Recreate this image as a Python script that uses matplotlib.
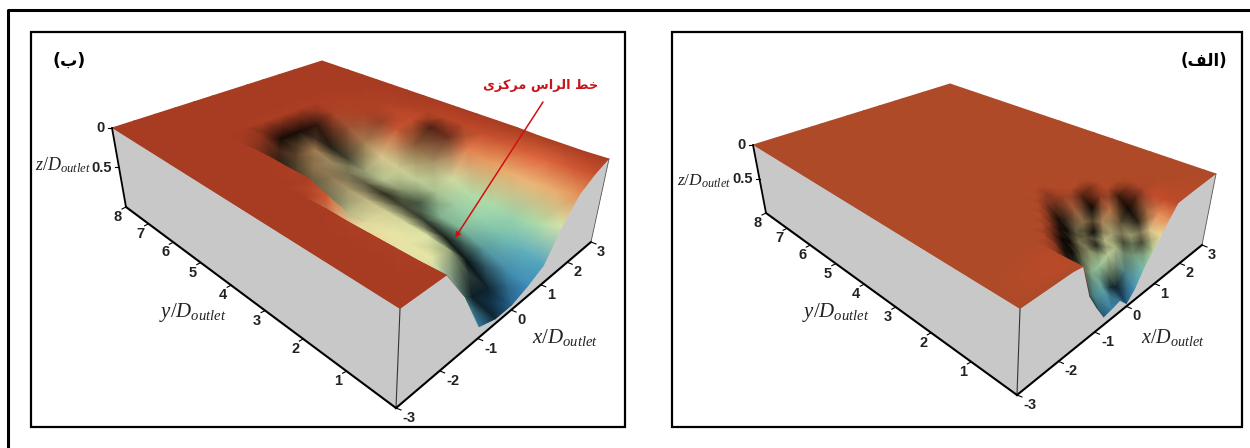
import matplotlib

matplotlib.use("Agg")
import matplotlib.pyplot as plt
import numpy as np
from matplotlib.colors import LinearSegmentedColormap
from matplotlib.patches import Polygon, Rectangle

plt.rcParams["mathtext.fontset"] = "custom"
plt.rcParams["mathtext.it"] = "Liberation Serif:italic"
plt.rcParams["mathtext.rm"] = "Liberation Serif"

# surface depth z/D, rows go far to near (y), columns left to right (x)
B_X = [-3, -2.5, -2, -1.5, -1, -0.5, 0, 0.5, 1, 1.5, 2, 2.5, 3]
B_Y = [8, 7.5, 7, 6.5, 6, 5.5, 5, 4.5, 4, 3.5, 3, 2.5, 2, 1.5, 1, 0.5, 0]
B_DEPTH = [
    [0, 0, 0, 0, 0, 0, 0, 0, 0, 0, 0, 0, 0],
    [0, 0, 0, 0, 0, 0, 0, 0, 0, 0, 0, 0, 0],
    [0, 0, 0, 0, 0, 0, 0, 0, 0, 0, 0, 0, 0],
    [0, 0, 0, 0, 0, 0, 0, 0, 0, 0, 0, 0, 0],
    [0, 0, 0, 0, 0, 0.01, 0.01, 0.01, 0.01, 0.01, 0, 0, 0],
    [0, 0, 0, 0, 0.02, 0.14, 0.14, 0.14, 0.06, 0.02, 0.01, 0.01, 0],
    [0, 0, 0, 0, 0.38, 0.26, 0.28, 0.35, 0.16, 0.06, 0.02, 0.01, 0],
    [0, 0, 0, 0, 0.42, 0.3, 0.34, 0.4, 0.28, 0.11, 0.05, 0.01, 0],
    [0, 0, 0, 0.01, 0.4, 0.32, 0.38, 0.44, 0.36, 0.1, 0.07, 0.03, 0],
    [0, 0, 0, 0.01, 0.45, 0.36, 0.4, 0.46, 0.42, 0.22, 0.08, 0.04, 0],
    [0, 0, 0, 0.1, 0.42, 0.38, 0.42, 0.48, 0.46, 0.34, 0.12, 0.05, 0],
    [0, 0, 0, 0.42, 0.4, 0.4, 0.46, 0.52, 0.5, 0.44, 0.17, 0.07, 0],
    [0, 0, 0.01, 0.34, 0.4, 0.42, 0.5, 0.58, 0.56, 0.54, 0.22, 0.09, 0],
    [0, 0, 0.01, 0.46, 0.4, 0.44, 0.58, 0.6, 0.58, 0.55, 0.26, 0.12, 0.01],
    [0, 0, 0.01, 0.36, 0.42, 0.48, 0.72, 0.7, 0.64, 0.58, 0.28, 0.13, 0.01],
    [0, 0, 0.01, 0.46, 0.7, 0.85, 0.9, 0.8, 0.72, 0.55, 0.26, 0.1, 0.01],
    [0, 0, 0, 0.4, 0.88, 0.95, 0.95, 0.88, 0.78, 0.45, 0.2, 0.08, 0],
]
B_SHADE = [
    [0, 0, 0, 0, 0, 0, 0, 0, 0, 0, 0, 0, 0],
    [0, 0, 0, 0, 0, 0, 0, 0, 0, 0, 0, 0, 0],
    [0, 0, 0, 0, 0, 0, 0, 0, 0, 0, 0, 0, 0],
    [0, 0, 0, 0, 0, 0, 0, 0, 0, 0, 0, 0, 0],
    [0, 0, 0, 0, 0, 0, 0, 0, 0, 0, 0, 0, 0],
    [0, 0, 0, 0, 0.2, 0.9, 0.9, 0.8, 0.1, 0, 0, 0, 0],
    [0, 0, 0, 0, 0.9, 0.6, 0.3, 0.85, 0.3, 0.1, 0, 0, 0],
    [0, 0, 0, 0, 0.8, 0.4, 0.35, 0.7, 0.3, 0.3, 0, 0, 0],
    [0, 0, 0, 0, 0.6, 0.4, 0.5, 0.3, 0.1, 0.05, 0, 0, 0],
    [0, 0, 0, 0, 0.5, 0.3, 0.6, 0.15, 0.1, 0.4, 0.6, 0, 0],
    [0, 0, 0, 0, 0.2, 0.2, 0.8, 0.35, 0.1, 0.3, 0.5, 0, 0],
    [0, 0, 0, 0, 0.05, 0.1, 0.7, 0.6, 0.15, 0.05, 0, 0, 0],
    [0, 0, 0, 0, 0, 0.05, 0.75, 0.15, 0.05, 0, 0, 0, 0],
    [0, 0, 0, 0, 0, 0, 0.85, 0.1, 0, 0, 0, 0, 0],
    [0, 0, 0, 0, 0, 0.3, 0.9, 0.15, 0, 0, 0, 0, 0],
    [0, 0, 0, 0, 0.1, 0.8, 0.75, 0.1, 0, 0, 0, 0, 0],
    [0, 0, 0, 0, 0.1, 0.7, 0.2, 0, 0, 0, 0, 0, 0],
]

A_X = [-3, -1.75, -1.5, -1.25, -1, -0.75, -0.5, -0.25, 0, 0.25, 0.5, 0.75, 1, 1.25, 1.5, 2, 3]
A_Y = [8, 4, 3, 2.5, 2.25, 2, 1.75, 1.5, 1.25, 1, 0.75, 0.5, 0.25, 0]
A_DEPTH = [
    [0, 0, 0, 0, 0, 0, 0, 0, 0, 0, 0, 0, 0, 0, 0, 0, 0],
    [0, 0, 0, 0, 0, 0, 0, 0, 0, 0, 0, 0, 0, 0, 0, 0, 0],
    [0, 0, 0, 0, 0, 0, 0, 0, 0, 0, 0, 0, 0, 0, 0, 0, 0],
    [0, 0, 0, 0, 0, 0, 0, 0, 0, 0, 0, 0, 0, 0, 0, 0, 0],
    [0, 0, 0, 0, 0, 0, 0, 0.01, 0.02, 0.01, 0, 0, 0, 0, 0, 0, 0],
    [0, 0, 0, 0, 0, 0, 0, 0.02, 0.04, 0.02, 0, 0, 0, 0, 0, 0, 0],
    [0, 0, 0, 0, 0, 0, 0.02, 0.08, 0.12, 0.08, 0.03, 0, 0, 0, 0, 0, 0],
    [0, 0, 0, 0, 0, 0.02, 0.08, 0.2, 0.28, 0.18, 0.08, 0.02, 0, 0, 0, 0, 0],
    [0, 0, 0, 0, 0.02, 0.08, 0.2, 0.3, 0.36, 0.3, 0.18, 0.08, 0.03, 0, 0, 0, 0],
    [0, 0, 0, 0.01, 0.06, 0.2, 0.3, 0.36, 0.38, 0.38, 0.3, 0.2, 0.08, 0.03, 0, 0, 0],
    [0, 0.02, 0.01, 0.05, 0.2, 0.3, 0.4, 0.42, 0.42, 0.42, 0.4, 0.32, 0.2, 0.08, 0.03, 0, 0],
    [0, 0.04, 0.02, 0.18, 0.35, 0.45, 0.55, 0.55, 0.48, 0.45, 0.45, 0.42, 0.32, 0.2, 0.07, 0.01, 0],
    [0, 0.04, 0.02, 0.35, 0.55, 0.72, 0.68, 0.75, 0.82, 0.7, 0.55, 0.45, 0.35, 0.2, 0.06, 0.02, 0],
    [0, 0, 0.02, 0.47, 0.7, 0.9, 0.88, 0.85, 0.97, 0.85, 0.65, 0.5, 0.36, 0.2, 0.05, 0.03, 0],
]
A_SHADE = [
    [0, 0, 0, 0, 0, 0, 0, 0, 0, 0, 0, 0, 0, 0, 0, 0, 0],
    [0, 0, 0, 0, 0, 0, 0, 0, 0, 0, 0, 0, 0, 0, 0, 0, 0],
    [0, 0, 0, 0, 0, 0, 0, 0, 0, 0, 0, 0, 0, 0, 0, 0, 0],
    [0, 0, 0, 0, 0, 0, 0, 0, 0, 0, 0, 0, 0, 0, 0, 0, 0],
    [0, 0, 0, 0, 0, 0, 0, 0, 0, 0, 0, 0, 0, 0, 0, 0, 0],
    [0, 0, 0, 0, 0, 0, 0, 0, 0.2, 0, 0, 0, 0, 0, 0, 0, 0],
    [0, 0, 0, 0, 0, 0, 0, 0.4, 0.5, 0.2, 0, 0, 0, 0, 0, 0, 0],
    [0, 0, 0, 0, 0, 0, 0.4, 0.9, 0.8, 0.3, 0.6, 0.3, 0, 0, 0, 0, 0],
    [0, 0, 0, 0, 0, 0.4, 0.9, 0.95, 0.6, 0.4, 0.95, 0.3, 0, 0, 0, 0, 0],
    [0, 0, 0, 0, 0.5, 0.95, 0.95, 0.5, 0.6, 0.95, 0.3, 0.2, 0.7, 0.3, 0, 0, 0],
    [0, 0, 0, 0.3, 0.9, 0.95, 0.6, 0.4, 0.85, 0.2, 0.3, 0.6, 0.95, 0.5, 0.05, 0, 0],
    [0, 0, 0, 0.8, 0.9, 0.6, 0.2, 0.1, 0.1, 0.2, 0.7, 0.3, 0.8, 0.3, 0, 0, 0],
    [0, 0, 0, 0.9, 0.6, 0.3, 0.1, 0.7, 0.8, 0.3, 0.3, 0.7, 0.1, 0, 0, 0, 0],
    [0, 0, 0, 0.9, 0.75, 0.4, 0.1, 0.2, 0.3, 0, 0, 0.1, 0, 0, 0, 0, 0],
]

X_TICKS = [-3, -2, -1, 0, 1, 2, 3]
Y_TICKS = [1, 2, 3, 4, 5, 6, 7, 8]
Z_TICKS = [0, 0.5]
Z_LABELS = ["0", "0.5"]

DEPTH_LEVELS = [0, 0.06, 0.13, 0.25, 0.38, 0.5, 0.62, 0.75, 0.95, 1]
DEPTH_COLORS = ["#a83c22", "#c04a2a", "#e0683f", "#e9a96a", "#f0e4a4", "#c8e6aa",
                "#84c8aa", "#5aaac0", "#2f7fb8", "#2f7fb8"]
FLAT_COLOR_A = "#ae4a28"
terrain_b = LinearSegmentedColormap.from_list("terrain_b", list(zip(DEPTH_LEVELS, DEPTH_COLORS)))
terrain_a = LinearSegmentedColormap.from_list("terrain_a", list(zip(DEPTH_LEVELS, [FLAT_COLOR_A] + DEPTH_COLORS[1:])))


def homography(corners):
    # (x, y) corners are front, right, top, left
    src = [(-3, 0), (3, 0), (3, 8), (-3, 8)]
    rows, rhs = [], []
    for (sx, sy), (dx, dy) in zip(src, corners):
        rows.append([sx, sy, 1, 0, 0, 0, -dx * sx, -dx * sy])
        rows.append([0, 0, 0, sx, sy, 1, -dy * sx, -dy * sy])
        rhs += [dx, dy]
    h = np.linalg.solve(np.array(rows, float), np.array(rhs, float))
    return np.append(h, 1).reshape(3, 3)


def draw_box(ax, xs, ys, depth, shade, cmap, top, bottom, labels):
    h_top = homography(top)
    h_bot = homography(bottom)

    def project(x, y, z):
        x, y, z = np.asarray(x, float), np.asarray(y, float), np.asarray(z, float)
        out = []
        for h in (h_top, h_bot):
            w = h[2, 0] * x + h[2, 1] * y + h[2, 2]
            out.append(((h[0, 0] * x + h[0, 1] * y + h[0, 2]) / w,
                        (h[1, 0] * x + h[1, 1] * y + h[1, 2]) / w))
        return (1 - z) * out[0][0] + z * out[1][0], (1 - z) * out[0][1] + z * out[1][1]

    xs = np.array(xs, float)
    ys = np.array(ys, float)
    depth = np.array(depth, float)
    shade = np.array(shade, float)
    gx, gy = np.meshgrid(xs, ys)
    px, py = project(gx, gy, depth)
    rgb = cmap(depth)[..., :3] * (1 - shade[..., None])

    # far corner first, so nearer quads paint over what they hide
    ax.pcolormesh(px[:, ::-1], py[:, ::-1], rgb[:, ::-1], shading="gouraud", zorder=2)

    # left wall and front wall, the front wall top follows the y=0 row of the table
    lx, ly = project([-3, -3, -3, -3], [0, 0, 8, 8], [0, 1, 1, 0])
    ax.add_patch(Polygon(np.c_[lx, ly], fc="#c8c8c8", ec="none", zorder=3))
    fx, fy = project(xs, np.zeros_like(xs), depth[-1])
    bx, by = project([3, -3], [0, 0], [1, 1])
    ax.add_patch(Polygon(np.c_[np.r_[fx, bx], np.r_[fy, by]], fc="#c8c8c8", ec="none", zorder=3))

    # edges
    ax.plot(*project([-3, -3], [0, 0], [0, 1]), color="#333333", lw=0.8, zorder=4)
    ax.plot(*project([-3, -3], [8, 8], [0, 1]), color="black", lw=1.3, zorder=4)
    ax.plot(*project([-3, -3], [8, 0], [1, 1]), color="black", lw=1.5, zorder=4)
    ax.plot(*project([-3, 3], [0, 0], [1, 1]), color="black", lw=1.5, zorder=4)
    ax.plot(*project([3, 3], [0, 0], [0, 1]), color="#555555", lw=0.6, zorder=4)

    tick_font = dict(fontsize=10.5, family="Liberation Sans", fontweight="bold", ha="center", va="center",
                     color="#222222", zorder=5)
    for t in X_TICKS:
        p0 = project(t, 0, 1)
        ax.plot([p0[0], p0[0] + 5], [p0[1], p0[1] + 2], color="black", lw=0.8, zorder=4)
        dx = 13 if t < 0 else 10
        ax.text(p0[0] + dx, p0[1] + 10, str(t), **tick_font)
    for t in Y_TICKS:
        p0 = project(-3, t, 1)
        ax.plot([p0[0], p0[0] - 4], [p0[1], p0[1] + 2], color="black", lw=0.8, zorder=4)
        ax.text(p0[0] - 8, p0[1] + 10, str(t), **tick_font)
    for t, lab in zip(Z_TICKS, Z_LABELS):
        p0 = project(-3, 8, t)
        ax.plot([p0[0], p0[0] - 4], [p0[1], p0[1]], color="black", lw=0.8, zorder=4)
        ax.text(p0[0] - 7, p0[1], lab, **{**tick_font, "ha": "right"})

    font = dict(ha="center", va="center", color="#222222", zorder=5)
    ax.text(*labels["z"], r"$z/D_{outlet}$", fontsize=labels["sizes"][0], **font)
    ax.text(*labels["y"], r"$y/D_{outlet}$", fontsize=labels["sizes"][1], **font)
    ax.text(*labels["x"], r"$x/D_{outlet}$", fontsize=labels["sizes"][2], **font)


fig = plt.figure(figsize=(12.5, 4.48), dpi=100)
ax = fig.add_axes([0, 0, 1, 1])
ax.set_xlim(0, 1250)
ax.set_ylim(448, 0)
ax.axis("off")

ax.plot([8, 8, 1250], [448, 10, 10], color="black", lw=2.2)
ax.add_patch(Rectangle((31, 32), 594, 395, fc="white", ec="black", lw=1.6))
ax.add_patch(Rectangle((672, 32), 570, 395, fc="white", ec="black", lw=1.6))

draw_box(ax, B_X, B_Y, B_DEPTH, B_SHADE, terrain_b,
         top=[(400, 309), (609, 159), (322, 61), (112, 128)],
         bottom=[(396, 408), (591, 242), (325, 132), (126, 207)],
         labels={"z": (63, 165), "y": (193, 313), "x": (565, 338), "sizes": (13, 15, 15)})
draw_box(ax, A_X, A_Y, A_DEPTH, A_SHADE, terrain_a,
         top=[(1020, 309), (1216, 174), (950, 84), (753, 145)],
         bottom=[(1017, 395), (1202, 245), (955, 145), (766, 213)],
         labels={"z": (704, 181), "y": (836, 313), "x": (1173, 338), "sizes": (12.5, 15, 14.5)})

# arabic text in visual order with presentation forms, matplotlib does no shaping
arabic = ["DejaVu Sans"]
ax.text(69, 61, "(\ufe8f)", family=arabic, fontsize=12.5, fontweight="bold", ha="center", va="center", zorder=5)
ax.text(1204, 61, "(\ufed2\ufedf\ufe8d)", family=arabic, fontsize=12, fontweight="bold", ha="center", va="center", zorder=5)
ax.text(541, 86, "\ufbfc\ufeb0\ufb90\ufeae\ufee3 \ufeb1\ufe8d\ufeae\ufedf\ufe8d \ufec2\ufea7", family=arabic,
        fontsize=9.3, fontweight="bold", color="#c8141c", ha="center", va="center", zorder=5)
ax.annotate("", xy=(455, 238), xytext=(543, 102), zorder=5,
            arrowprops=dict(arrowstyle="-|>", color="#d01010", lw=1.1, mutation_scale=8, shrinkA=0, shrinkB=0))

fig.savefig("out.png", dpi=100)
